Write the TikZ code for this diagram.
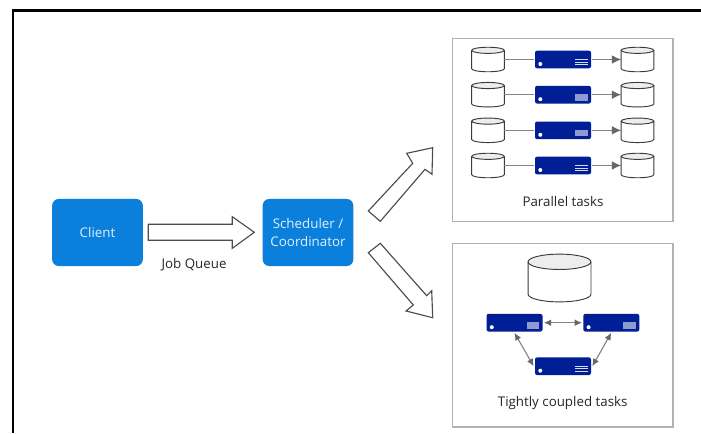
\documentclass[tikz,border=0pt]{standalone}
\usepackage{fontspec}
\setmainfont{Open Sans}
\usetikzlibrary{arrows.meta}
\definecolor{azure}{HTML}{0A7FDB}
\definecolor{srv}{HTML}{001E96}
\definecolor{srvlight}{HTML}{8E9AD0}
\definecolor{cyledge}{HTML}{3A3A3A}
\definecolor{linkgray}{HTML}{858585}
\tikzset{
  x=0.75pt,y=-0.75pt,
  lbl/.style={inner sep=0pt,font=\fontsize{10pt}{13.5pt}\selectfont,text=black!85,align=center},
  bluebox/.style={rounded corners=5pt,fill=azure,minimum width=68pt,minimum height=50.3pt,inner sep=0pt,
    text=white!88!azure,font=\fontsize{10pt}{13.5pt}\selectfont,align=center},
  panel/.style={draw=black!30,line width=0.9pt,fill=white},
  fatarrow/.style={draw=black!70,line width=0.85pt,fill=white,line join=miter},
  dbbox/.style={rectangle,inner sep=0pt,outer sep=0pt},
  dbline/.style={draw=cyledge,line width=0.7pt},
  serverbase/.style={rectangle,rounded corners=1.5pt,fill=srv,minimum width=42pt,minimum height=13.2pt,inner sep=0pt,outer sep=1pt},
  serverlines/.style={serverbase,path picture={
    \fill[white,sharp corners] ([shift={(5.3,13.3)}]path picture bounding box.north west) circle[radius=1.5pt];
    \foreach \yy in {8.6,11.3,14}{\draw[white!85!srv,line width=0.65pt,sharp corners]
      ([shift={(40,\yy)}]path picture bounding box.north west) -- ++(12.5,0);}}},
  serverblock/.style={serverbase,path picture={
    \fill[white,sharp corners] ([shift={(5.3,13.3)}]path picture bounding box.north west) circle[radius=1.5pt];
    \fill[srvlight,sharp corners] ([shift={(40,8.3)}]path picture bounding box.north west) rectangle ++(12.5,6.5);}},
  link/.style={draw=linkgray,line width=0.85pt},
  oneway/.style={link,-{Latex[length=7pt,width=6.5pt,color=black!60]}},
  twoway/.style={link,{Latex[length=5.5pt,width=5pt,color=black!60]}-{Latex[length=5.5pt,width=5pt,color=black!60]}},
}
% name, position, half width (pt), total height (pt), ellipse half height (pt)
\newcommand{\dbnode}[5]{%
  \node[dbbox,minimum width=#3*2pt,minimum height=#4pt] (#1) at (#2) {};
  \path[fill=white] ([yshift=-#5pt]#1.north west) -- ([yshift=#5pt]#1.south west)
    arc[start angle=180,end angle=360,x radius=#3pt,y radius=#5pt]
    -- ([yshift=-#5pt]#1.north east) -- cycle;
  \draw[dbline] ([yshift=-#5pt]#1.north west) -- ([yshift=#5pt]#1.south west)
    arc[start angle=180,end angle=360,x radius=#3pt,y radius=#5pt]
    -- ([yshift=-#5pt]#1.north east);
  \draw[dbline,fill=black!7] ([yshift=-#5pt]#1.north) circle[x radius=#3pt,y radius=#5pt];
}
\begin{document}
\begin{tikzpicture}
\useasboundingbox (0,0) rectangle (701,433);
\fill[white] (0,0) rectangle (701,433);
\draw[black,line width=2.1pt] (13,433) -- (13,10.5) -- (701,10.5);

% panels
\draw[panel] (452.5,38.5) rectangle (673,221.5);
\draw[panel] (452.5,243.5) rectangle (673,427);

% client and scheduler
\node[bluebox] (client) at (97.5,232.5) {Client};
\node[bluebox] (sched) at (308,232.5) {Scheduler /\\Coordinator};
\node[lbl] (jq) at (194,264.5) {Job Queue};

% fat arrows
\draw[fatarrow] (148.3,224.3) -- (232.3,224.3) -- (232.3,216.7) -- (254.3,232.3) -- (232.3,248.3) -- (232.3,240.3) -- (148.3,240.3) -- cycle;
\draw[fatarrow] (368.3,211) -- (412.7,163.3) -- (406.7,153.3) -- (432.7,147.7) -- (432,174.3) -- (425,169.3) -- (380.3,221.3) -- cycle;
\draw[fatarrow] (368.3,252.7) -- (380.3,243.3) -- (426.7,295.7) -- (431.7,290.7) -- (432.7,317.7) -- (406,311) -- (413.3,305) -- cycle;

% parallel tasks
\foreach \i/\yc/\kind in {1/59.5/serverlines,2/94.7/serverblock,3/130.3/serverblock,4/165.5/serverlines}{
  \dbnode{l\i}{488,\yc}{12.25}{18.4}{2.3}
  \dbnode{r\i}{637.5,\yc}{12.25}{18.4}{2.3}
  \node[\kind] (s\i) at (563,\yc) {};
  \draw[link] (l\i) -- (s\i);
  \draw[oneway] (s\i) -- (r\i);
}
\node[lbl] (ptext) at (563,201) {Parallel tasks};

% tightly coupled tasks
\dbnode{store}{559.5,278}{23.6}{35.8}{5.75}
\node[serverblock] (a) at (514.5,322.7) {};
\node[serverblock] (b) at (611.3,322.7) {};
\node[serverlines] (c) at (563,366.2) {};
\draw[twoway] (a) -- (b);
\draw[twoway] (a.south) -- (c.west);
\draw[twoway] (b.south) -- (c.east);
\node[lbl] (ttext) at (562.7,403.5) {Tightly coupled tasks};
\end{tikzpicture}
\end{document}
